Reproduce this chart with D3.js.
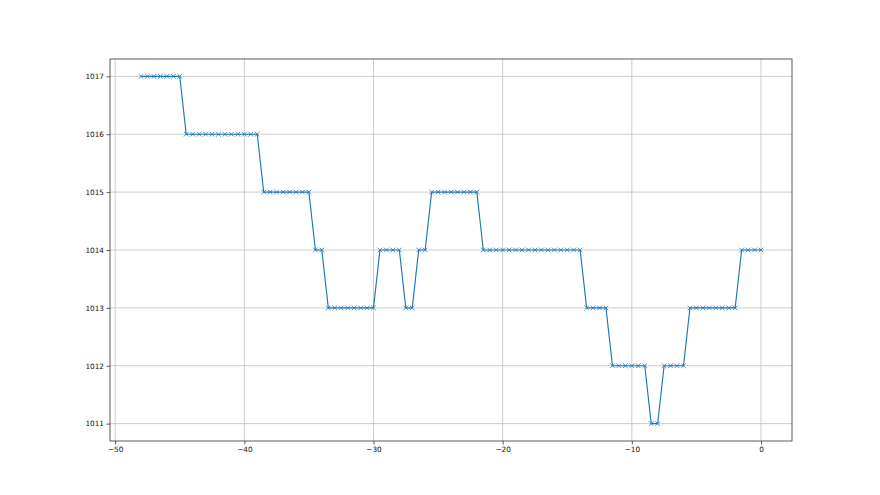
<!DOCTYPE html>
<html>
<head>
<meta charset="utf-8">
<script src="https://cdn.jsdelivr.net/npm/d3@7"></script>
<style>
  body { margin: 0; background: #fff; }
  svg text { font-family: "DejaVu Sans", sans-serif; }
</style>
</head>
<body>
<div id="chart"></div>
<script>
// hours before now
var hours = [
  -48, -47.5, -47, -46.5, -46, -45.5, -45,
  -44.5, -44, -43.5, -43, -42.5, -42, -41.5, -41, -40.5, -40, -39.5, -39,
  -38.5, -38, -37.5, -37, -36.5, -36, -35.5, -35,
  -34.5, -34,
  -33.5, -33, -32.5, -32, -31.5, -31, -30.5, -30,
  -29.5, -29, -28.5, -28,
  -27.5, -27,
  -26.5, -26,
  -25.5, -25, -24.5, -24, -23.5, -23, -22.5, -22,
  -21.5, -21, -20.5, -20, -19.5, -19, -18.5, -18, -17.5, -17, -16.5, -16, -15.5, -15, -14.5, -14,
  -13.5, -13, -12.5, -12,
  -11.5, -11, -10.5, -10, -9.5, -9,
  -8.5, -8,
  -7.5, -7, -6.5, -6,
  -5.5, -5, -4.5, -4, -3.5, -3, -2.5, -2,
  -1.5, -1, -0.5, 0
];

var pressure = [
  1017, 1017, 1017, 1017, 1017, 1017, 1017,
  1016, 1016, 1016, 1016, 1016, 1016, 1016, 1016, 1016, 1016, 1016, 1016,
  1015, 1015, 1015, 1015, 1015, 1015, 1015, 1015,
  1014, 1014,
  1013, 1013, 1013, 1013, 1013, 1013, 1013, 1013,
  1014, 1014, 1014, 1014,
  1013, 1013,
  1014, 1014,
  1015, 1015, 1015, 1015, 1015, 1015, 1015, 1015,
  1014, 1014, 1014, 1014, 1014, 1014, 1014, 1014, 1014, 1014, 1014, 1014, 1014, 1014, 1014, 1014,
  1013, 1013, 1013, 1013,
  1012, 1012, 1012, 1012, 1012, 1012,
  1011, 1011,
  1012, 1012, 1012, 1012,
  1013, 1013, 1013, 1013, 1013, 1013, 1013, 1013,
  1014, 1014, 1014, 1014
];

var xTicks = [-50, -40, -30, -20, -10, 0];
var yTicks = [1011, 1012, 1013, 1014, 1015, 1016, 1017];

var width = 880, height = 495;
var margin = {top: 59, right: 88, bottom: 54, left: 110};

var svg = d3.select("#chart").append("svg")
    .attr("width", width)
    .attr("height", height);

var x = d3.scaleLinear()
    .domain([-50.4, 2.4])
    .range([margin.left, width - margin.right]);

var y = d3.scaleLinear()
    .domain([1010.7, 1017.3])
    .range([height - margin.bottom, margin.top]);

// grid
svg.append("g")
    .selectAll("line")
    .data(xTicks)
    .enter().append("line")
    .attr("x1", function(d) { return x(d); })
    .attr("x2", function(d) { return x(d); })
    .attr("y1", margin.top)
    .attr("y2", height - margin.bottom)
    .attr("stroke", "#c0c0c0")
    .attr("stroke-width", 0.8);

svg.append("g")
    .selectAll("line")
    .data(yTicks)
    .enter().append("line")
    .attr("x1", margin.left)
    .attr("x2", width - margin.right)
    .attr("y1", function(d) { return y(d); })
    .attr("y2", function(d) { return y(d); })
    .attr("stroke", "#c0c0c0")
    .attr("stroke-width", 0.8);

// axes
var xAxis = d3.axisBottom(x).tickValues(xTicks).tickSize(3.5).tickPadding(2.5)
    .tickFormat(function(d) { return d < 0 ? "\u2212" + Math.abs(d) : d; });
var yAxis = d3.axisLeft(y).tickValues(yTicks).tickSize(3.5).tickPadding(2.5)
    .tickFormat(d3.format("d"));

var gx = svg.append("g")
    .attr("transform", "translate(0," + (height - margin.bottom) + ")")
    .call(xAxis);
var gy = svg.append("g")
    .attr("transform", "translate(" + margin.left + ",0)")
    .call(yAxis);

[gx, gy].forEach(function(g) {
  g.select(".domain").remove();
  g.selectAll("line").attr("stroke", "#333").attr("stroke-width", 0.8);
  g.selectAll("text").attr("fill", "#111").style("font-size", "7.3px");
});

// the line
var data = hours.map(function(h, i) { return {h: h, p: pressure[i]}; });

var line = d3.line()
    .x(function(d) { return x(d.h); })
    .y(function(d) { return y(d.p); });

svg.append("path")
    .datum(data)
    .attr("fill", "none")
    .attr("stroke", "#1f77b4")
    .attr("stroke-width", 1.15)
    .attr("d", line);

// x markers
var m = 2.3;
svg.append("g")
    .selectAll("path")
    .data(data)
    .enter().append("path")
    .attr("d", function(d) {
      var cx = x(d.h), cy = y(d.p);
      return "M" + (cx - m) + "," + (cy - m) + "L" + (cx + m) + "," + (cy + m) +
             "M" + (cx - m) + "," + (cy + m) + "L" + (cx + m) + "," + (cy - m);
    })
    .attr("stroke", "#1f77b4")
    .attr("stroke-width", 0.8)
    .attr("fill", "none");

// frame
svg.append("rect")
    .attr("x", margin.left)
    .attr("y", margin.top)
    .attr("width", width - margin.left - margin.right)
    .attr("height", height - margin.top - margin.bottom)
    .attr("fill", "none")
    .attr("stroke", "#333")
    .attr("stroke-width", 0.8);
</script>
</body>
</html>
